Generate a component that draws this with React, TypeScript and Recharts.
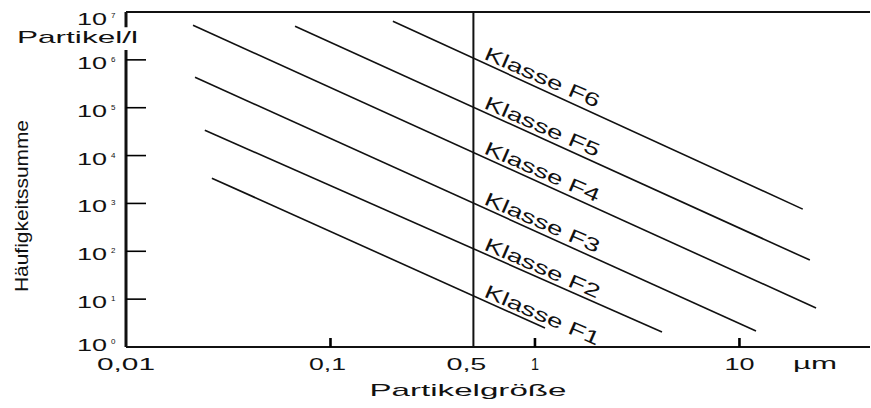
import { Line, LineChart, ReferenceDot, ReferenceLine, XAxis, YAxis } from 'recharts'

const classNames = ['Klasse F1', 'Klasse F2', 'Klasse F3', 'Klasse F4', 'Klasse F5', 'Klasse F6']
const startSize = [0.0263, 0.0243, 0.02175, 0.02127, 0.0671, 0.202]
const startCount = [3375, 33900, 433000, 5280000, 5030000, 6400000]
const endSize = [1.12, 4.18, 12.05, 23.7, 22.1, 20.4]
const endCount = [2.49, 2.06, 2.16, 6.52, 65.5, 760]
// where each line crosses the 0.5 µm mark, used to place the class labels
const labelSize = 0.5
const labelCount = [11.7, 113, 1010, 11600, 102000, 1090000]

const xTicks = [0.01, 0.1, 0.5, 1, 10]
const xTickLabels = ['0,01', '0,1', '0,5', '1', '10']
const xMarks = [0.1, 1, 10]
const yTicks = [1, 10, 100, 1e3, 1e4, 1e5, 1e6, 1e7]
const yMarks = [10, 100, 1e3, 1e4, 1e5, 1e6]

const font = '"Liberation Sans", Arial, sans-serif'
const ink = '#111'

const seriesData = classNames.map((_, i) => [
  { x: startSize[i], y: startCount[i] },
  { x: endSize[i], y: endCount[i] },
])

const xLabelWidth: Record<string, number> = { '0,01': 58, '0,1': 37, '0,5': 40, '1': 8, '10': 30 }

const XTick = ({ x, y, payload }: any) => {
  const label = xTickLabels[xTicks.indexOf(payload.value)]
  const dx = payload.value === 0.5 ? -7 : payload.value === 0.1 ? -3 : 0
  return (
    <text
      x={x + dx}
      y={y + 23}
      textAnchor="middle"
      fontFamily={font}
      fontSize={16}
      fill={ink}
      textLength={xLabelWidth[label]}
      lengthAdjust="spacingAndGlyphs"
    >
      {label}
    </text>
  )
}

const YTick = ({ x, y, payload }: any) => {
  const exp = Math.round(Math.log10(payload.value))
  const dy = exp === 0 ? 4 : exp === 7 ? 13 : 9
  return (
    <g>
      <text x={x - 49} y={y + dy} fontFamily={font} fontSize={16} fill={ink} textLength={30} lengthAdjust="spacingAndGlyphs">
        10
      </text>
      <text x={x - 15} y={y + dy - 7} fontFamily={font} fontSize={8} fill={ink}>
        {exp}
      </text>
    </g>
  )
}

const ClassLabel = ({ viewBox, text }: any) => {
  const x = viewBox.x + 10
  const y = viewBox.y + 1
  return (
    <text
      x={x}
      y={y}
      transform={`rotate(23.5 ${x} ${y})`}
      fontFamily={font}
      fontSize={19}
      fill={ink}
      textLength={124}
      lengthAdjust="spacingAndGlyphs"
    >
      {text}
    </text>
  )
}

// inward tick marks: a zero-size dot on the axis with a label that draws the mark
const YMark = ({ viewBox }: any) => {
  const cx = viewBox.x + viewBox.width / 2
  const cy = viewBox.y + viewBox.height / 2
  return <path d={`M${cx},${cy}h20`} stroke="#000" strokeWidth={1.6} fill="none" />
}

const XMark = ({ viewBox }: any) => {
  const cx = viewBox.x + viewBox.width / 2
  const cy = viewBox.y + viewBox.height / 2
  return <path d={`M${cx},${cy}v-9`} stroke="#000" strokeWidth={2.6} fill="none" />
}

export default function App() {
  return (
    <div style={{ position: 'absolute', left: 0, top: 0, background: '#fff' }}>
      <LineChart width={871} height={408} margin={{ top: 12, right: 1, bottom: 0, left: 0 }}>
        <XAxis
          dataKey="x"
          type="number"
          scale="log"
          domain={[0.01, 43.5]}
          allowDataOverflow
          ticks={xTicks}
          interval={0}
          height={61}
          tickSize={0}
          tickMargin={0}
          tickLine={false}
          axisLine={{ stroke: ink, strokeWidth: 2 }}
          tick={<XTick />}
        />
        <YAxis
          dataKey="y"
          type="number"
          scale="log"
          domain={[1, 1e7]}
          allowDataOverflow
          ticks={yTicks}
          interval={0}
          width={126}
          tickSize={0}
          tickMargin={0}
          tickLine={false}
          axisLine={false}
          tick={<YTick />}
        />
        <ReferenceLine segment={[{ x: 0.01, y: 1 }, { x: 0.01, y: 1.6e6 }]} stroke={ink} strokeWidth={3} />
        <ReferenceLine segment={[{ x: 0.01, y: 4.8e6 }, { x: 0.01, y: 1e7 }]} stroke={ink} strokeWidth={3} />
        <ReferenceLine y={1e7} stroke={ink} strokeWidth={2} />
        <ReferenceLine x={0.5} stroke={ink} strokeWidth={2} />
        {yMarks.map((v) => (
          <ReferenceDot key={`ym-${v}`} x={0.01} y={v} r={0.5} fill="none" stroke="none" label={<YMark />} />
        ))}
        {xMarks.map((v) => (
          <ReferenceDot key={`xm-${v}`} x={v} y={1} r={0.5} fill="none" stroke="none" label={<XMark />} />
        ))}
        {seriesData.map((d, i) => (
          <Line
            key={classNames[i]}
            data={d}
            dataKey="y"
            type="linear"
            stroke={ink}
            strokeWidth={1.6}
            dot={false}
            activeDot={false}
            isAnimationActive={false}
          />
        ))}
        {classNames.map((name, i) => (
          <ReferenceDot
            key={`lbl-${name}`}
            x={labelSize}
            y={labelCount[i]}
            r={0.5}
            fill="none"
            stroke="none"
            label={<ClassLabel text={name} />}
          />
        ))}
        <text x={17} y={43} fontFamily={font} fontSize={17} fill={ink} textLength={121} lengthAdjust="spacingAndGlyphs">
          Partikel/l
        </text>
        <text
          x={28}
          y={206}
          transform="rotate(-90 28 206)"
          textAnchor="middle"
          fontFamily={font}
          fontSize={19}
          fill={ink}
          textLength={172}
          lengthAdjust="spacingAndGlyphs"
        >
          Häufigkeitssumme
        </text>
        <text x={815} y={369} textAnchor="middle" fontFamily={font} fontSize={16} fill={ink} textLength={44} lengthAdjust="spacingAndGlyphs">
          µm
        </text>
        <text x={468} y={396} textAnchor="middle" fontFamily={font} fontSize={17} fill={ink} textLength={197} lengthAdjust="spacingAndGlyphs">
          Partikelgröße
        </text>
      </LineChart>
    </div>
  )
}
